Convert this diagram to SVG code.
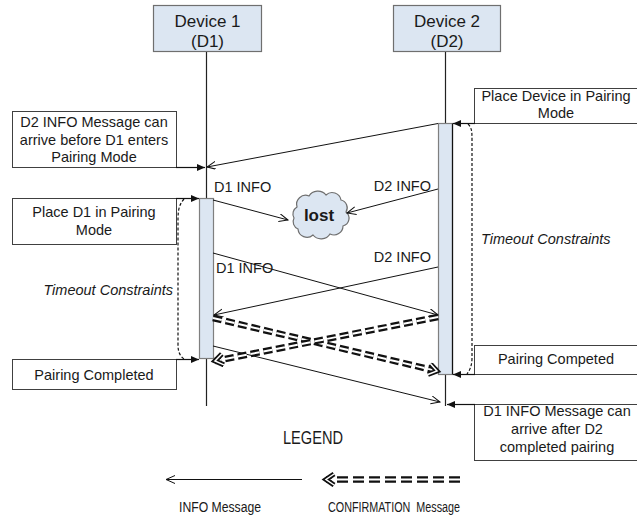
<svg xmlns="http://www.w3.org/2000/svg" width="637" height="521" viewBox="0 0 637 521">
<style>
  text { font-family: "Liberation Sans", Arial, sans-serif; fill: #1a1a1a; }
  .t { font-size: 14.5px; }
  .c { text-anchor: middle; }
  .dev { fill: #dce6f2; stroke: #6f6f6f; stroke-width: 1.2; }
  .bar { fill: #dce6f2; stroke: #7f7f7f; stroke-width: 1.2; }
  .box { fill: #ffffff; stroke: #404040; stroke-width: 1; }
  .life { stroke: #222; stroke-width: 1.2; fill: none; }
  .msg { stroke: #111; stroke-width: 1; fill: none; marker-end: url(#open); }
  .ptr { stroke: #111; stroke-width: 1.2; fill: none; marker-end: url(#fill); }
  .brk { stroke: #111; stroke-width: 1.2; fill: none; stroke-dasharray: 3 2; }
  .dblB { stroke: #111; stroke-width: 6.5; fill: none; stroke-dasharray: 9 4; }
  .dblW { stroke: #fff; stroke-width: 2; fill: none; stroke-dasharray: 9 4; marker-end: url(#dbl); }
  .lgB { stroke: #111; stroke-width: 6.5; fill: none; stroke-dasharray: 11 5; }
  .lgW { stroke: #fff; stroke-width: 2; fill: none; stroke-dasharray: 11 5; marker-end: url(#dbl); }
</style>
<defs>
  <marker id="open" markerUnits="userSpaceOnUse" markerWidth="12" markerHeight="10" refX="9" refY="4" orient="auto" viewBox="0 0 12 10">
    <path d="M0,0 L9,4 L0,8" fill="none" stroke="#111" stroke-width="1"/>
  </marker>
  <marker id="fill" markerUnits="userSpaceOnUse" markerWidth="10" markerHeight="8" refX="8" refY="3.5" orient="auto" viewBox="0 0 10 8">
    <path d="M0,0 L8,3.5 L0,7 Z" fill="#111"/>
  </marker>
  <marker id="dbl" markerUnits="userSpaceOnUse" markerWidth="16" markerHeight="16" refX="11" refY="7" orient="auto" viewBox="0 0 16 16">
    <path d="M3,1.5 L11,7 L3,12.5" fill="none" stroke="#111" stroke-width="5" stroke-linejoin="miter"/>
    <path d="M3,1.5 L11,7 L3,12.5" fill="none" stroke="#fff" stroke-width="1.5"/>
  </marker>
</defs>

<g id="device1">
  <rect class="dev" x="153.5" y="5.5" width="108" height="46"/>
  <text class="c" x="207.5" y="27" font-size="17">Device 1</text>
  <text class="c" x="207.5" y="47" font-size="17">(D1)</text>
</g>
<g id="device2">
  <rect class="dev" x="393.5" y="5.5" width="107" height="46"/>
  <text class="c" x="447" y="27" font-size="17">Device 2</text>
  <text class="c" x="447" y="47" font-size="17">(D2)</text>
</g>

<g id="lifelines">
  <line class="life" x1="206.5" y1="52" x2="206.5" y2="406"/>
  <line class="life" x1="445.5" y1="52" x2="445.5" y2="406"/>
</g>

<g id="bar-d1">
  <rect class="bar" x="199.5" y="198.5" width="14" height="160"/>
</g>
<g id="bar-d2">
  <rect class="bar" x="438.5" y="123.5" width="14" height="251"/>
  <line x1="452.5" y1="123.5" x2="452.5" y2="374.5" stroke="#111" stroke-width="1.2"/>
</g>

<g id="note-d2-before">
  <rect class="box" x="12.5" y="111.5" width="164" height="56"/>
  <text class="t c" x="94" y="127">D2 INFO Message can</text>
  <text class="t c" x="94" y="145">arrive before D1 enters</text>
  <text class="t c" x="94" y="162">Pairing Mode</text>
</g>
<g id="note-place-d1">
  <rect class="box" x="12.5" y="198.5" width="164" height="46"/>
  <text class="t c" x="94" y="217">Place D1 in Pairing</text>
  <text class="t c" x="94" y="235">Mode</text>
</g>
<g id="note-completed-d1">
  <rect class="box" x="12.5" y="359.5" width="164" height="30"/>
  <text class="t c" x="94" y="380">Pairing Completed</text>
</g>
<g id="note-place-d2">
  <rect class="box" x="474.5" y="88.5" width="170" height="35"/>
  <text class="t c" x="556" y="101">Place Device in Pairing</text>
  <text class="t c" x="556" y="118">Mode</text>
</g>
<g id="note-completed-d2">
  <rect class="box" x="474.5" y="345.5" width="170" height="29"/>
  <text class="t c" x="556" y="364">Pairing Competed</text>
</g>
<g id="note-d1-after">
  <rect class="box" x="474.5" y="404.5" width="170" height="56"/>
  <text class="t c" x="557" y="416">D1 INFO Message can</text>
  <text class="t c" x="557" y="434">arrive after D2</text>
  <text class="t c" x="557" y="452">completed pairing</text>
</g>

<g id="lost">
  <path d="M297,207 a9,9 0 0 1 12,-11 a10,9 0 0 1 17,-1 a9,9 0 0 1 15,5 a8,8 0 0 1 5,12 a8,8 0 0 1 -3,14 a9,9 0 0 1 -13,8 a10,9 0 0 1 -17,1 a9,9 0 0 1 -15,-6 a8,8 0 0 1 -4,-11 a8,8 0 0 1 3,-11 Z" fill="#dce6f2" stroke="#6f6f6f" stroke-width="1.2"/>
  <text class="c" x="319" y="221" font-size="17" font-weight="bold">lost</text>
</g>

<g id="annotations">
  <text class="t" x="173" y="295" text-anchor="end" font-style="italic">Timeout Constraints</text>
  <text class="t" x="481" y="244" font-style="italic">Timeout Constraints</text>
  <text class="t" x="214" y="192">D1 INFO</text>
  <text class="t" x="431" y="191" text-anchor="end">D2 INFO</text>
  <text class="t" x="216" y="273">D1 INFO</text>
  <text class="t" x="431" y="262" text-anchor="end">D2 INFO</text>
</g>

<g id="connectors">
  <path class="ptr" d="M176,167.5 L205,167.5"/>
  <path class="ptr" d="M176,198.5 L199,198.5"/>
  <path class="ptr" d="M176,359.5 L199,359.5"/>
  <path class="ptr" d="M475,123.5 L453,123.5"/>
  <path class="ptr" d="M475,374.5 L453,374.5"/>
  <path class="ptr" d="M475,404.5 L447,404.5"/>
  <path class="brk" d="M184,199 C179,205 178,210 178,220 L178,345 C178,352 180,356 184,359"/>
  <path class="brk" d="M468,124 C472,128 472,132 472,140 L472,358 C472,365 470,370 467,374"/>
  <path class="msg" d="M438,123.5 L207,167"/>
  <path class="msg" d="M213,200 L288,220"/>
  <path class="msg" d="M438,189 L347,213"/>
  <path class="msg" d="M213,253 L438,315"/>
  <path class="msg" d="M438,267 L214,315"/>
  <path class="msg" d="M213,346 L440,402"/>
  <path class="dblB" d="M213,318 L437,371"/>
  <path class="dblW" d="M213,318 L437,371"/>
  <path class="dblB" d="M438,317 L215,361"/>
  <path class="dblW" d="M438,317 L215,361"/>
</g>

<g id="legend">
  <text class="c" x="313" y="444" font-size="18" textLength="60" lengthAdjust="spacingAndGlyphs">LEGEND</text>
  <path class="msg" d="M302,479.5 L166,479.5"/>
  <path class="lgB" d="M460,479.5 L326,479.5"/>
  <path class="lgW" d="M460,479.5 L326,479.5"/>
  <text class="c" x="220" y="512" font-size="15.5" textLength="82" lengthAdjust="spacingAndGlyphs">INFO Message</text>
  <text class="c" x="394" y="512" font-size="15.5" textLength="132" lengthAdjust="spacingAndGlyphs" xml:space="preserve">CONFIRMATION  Message</text>
</g>
</svg>
